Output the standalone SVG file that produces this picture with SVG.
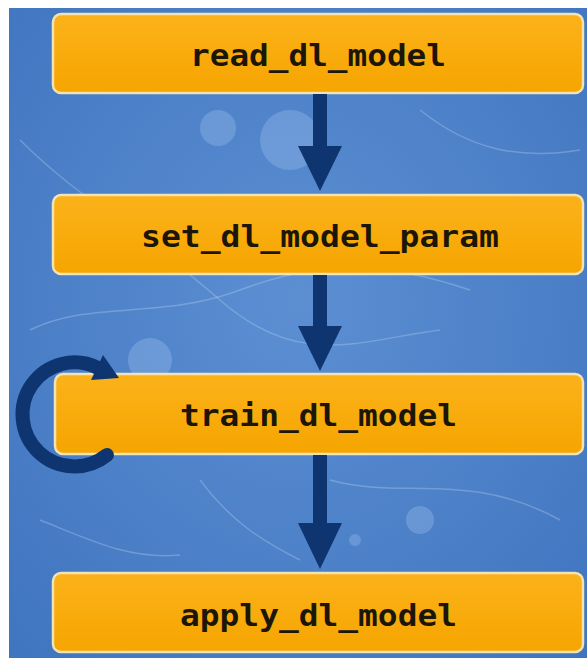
<svg xmlns="http://www.w3.org/2000/svg" width="587" height="658" viewBox="0 0 587 658">
<defs>
<style>
.box{fill:url(#og);stroke:#F3E2B2;stroke-width:2.5}
.lbl{font-family:"DejaVu Sans Mono","Liberation Mono",monospace;font-weight:bold;font-size:31px;fill:#1C1608;text-anchor:middle}
.shaft{stroke:#0E3570;stroke-width:14;fill:none}
.head{fill:#0E3570}
.blob{fill:#9EC1EE;opacity:0.35}
.fib{stroke:#B8D2F2;stroke-width:1.5;fill:none;opacity:0.35}
</style>
<linearGradient id="og" x1="0" y1="0" x2="0" y2="1">
<stop offset="0" stop-color="#FBB21A"/>
<stop offset="1" stop-color="#F6A500"/>
</linearGradient>
<radialGradient id="bg" cx="0.5" cy="0.45" r="0.75">
<stop offset="0" stop-color="#5C8FD2"/>
<stop offset="1" stop-color="#3F74BF"/>
</radialGradient>
</defs>
<rect width="587" height="658" fill="#ffffff"/>
<rect x="9" y="8" width="578" height="650" fill="url(#bg)"/>
<g id="texture">
<circle class="blob" cx="218" cy="128" r="18"/>
<circle class="blob" cx="290" cy="140" r="30"/>
<circle class="blob" cx="150" cy="360" r="22"/>
<circle class="blob" cx="420" cy="520" r="14"/>
<circle class="blob" cx="355" cy="540" r="6"/>
<path class="fib" d="M20 140 C80 200 140 230 220 300 S360 340 440 330"/>
<path class="fib" d="M30 330 C90 300 160 320 240 290 S380 260 470 290"/>
<path class="fib" d="M200 480 C230 520 260 540 300 560"/>
<path class="fib" d="M330 480 C400 500 470 470 560 520"/>
<path class="fib" d="M40 520 C90 540 130 560 180 555"/>
<path class="fib" d="M420 110 C470 150 520 160 580 150"/>
</g>
<g id="n1"><rect class="box" x="53" y="14" width="530" height="79" rx="8"/><text class="lbl" x="318" y="66" textLength="256" lengthAdjust="spacingAndGlyphs">read_dl_model</text></g>
<g id="n2"><rect class="box" x="53" y="195" width="530" height="79" rx="8"/><text class="lbl" x="320" y="247" textLength="358" lengthAdjust="spacingAndGlyphs">set_dl_model_param</text></g>
<g id="n3"><rect class="box" x="55" y="374" width="528" height="80" rx="8"/><text class="lbl" x="318.5" y="426" textLength="277" lengthAdjust="spacingAndGlyphs">train_dl_model</text></g>
<g id="n4"><rect class="box" x="53" y="573" width="530" height="79" rx="8"/><text class="lbl" x="318.5" y="626" textLength="277" lengthAdjust="spacingAndGlyphs">apply_dl_model</text></g>
<g id="connectors">
<line class="shaft" x1="320" y1="94" x2="320" y2="150"/>
<polygon class="head" points="298,146 342,146 320,191"/>
<line class="shaft" x1="320" y1="275" x2="320" y2="330"/>
<polygon class="head" points="298,326 342,326 320,371"/>
<line class="shaft" x1="320" y1="455" x2="320" y2="527"/>
<polygon class="head" points="298,523 342,523 320,569"/>
<path class="shaft" stroke-width="9" stroke-linecap="round" d="M107 455 A52 52 0 1 1 98 368"/>
<polygon class="head" points="91,380 103,355 119,378"/>
</g>
</svg>
